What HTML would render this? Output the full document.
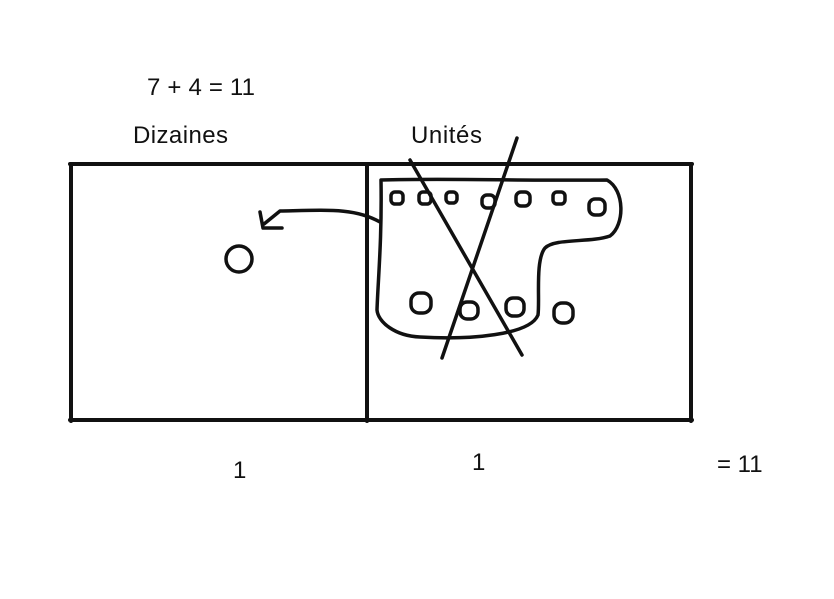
<!DOCTYPE html>
<html><head><style>body{margin:0;background:#fff}svg{display:block}</style></head>
<body>
<svg width="834" height="599" viewBox="0 0 834 599" xmlns="http://www.w3.org/2000/svg">
<rect width="834" height="599" fill="#fff"/>
<g font-family="Liberation Sans, sans-serif" font-size="24" fill="#111">
<text x="147" y="95" textLength="108">7 + 4 = 11</text>
<text x="133" y="143" textLength="95">Dizaines</text>
<text x="411" y="143" textLength="71">Unités</text>
<text x="233" y="478">1</text>
<text x="472" y="470">1</text>
<text x="717" y="472">= 11</text>
</g>
<g fill="none" stroke="#111" stroke-linecap="round" stroke-linejoin="round">
<path d="M70 164 H692 M71 164 V421 M367 164 V421 M691 164 V421 M70 420 H692" stroke-width="4"/>
<g stroke-width="3.5">
<path d="M381 180 C450 178 520 181 607 180 C625 190 625 225 610 236 C590 243 555 238 545 248 C535 260 540 300 538 315 C530 335 470 340 420 337 C395 336 378 322 377 310 C378 280 382 240 381 180 Z"/>
<path d="M380 222 C355 208 330 210 280 211 L264 224 M260 212 L263 228 L282 228"/>
<path d="M410 160 L522 355 M517 138 L442 358"/>
<circle cx="239" cy="259" r="13"/>
<rect x="391" y="192" width="12" height="12" rx="4"/>
<rect x="419" y="192" width="12" height="12" rx="4"/>
<rect x="446" y="192" width="11" height="11" rx="4"/>
<rect x="482" y="195" width="13" height="13" rx="5"/>
<rect x="516" y="192" width="14" height="14" rx="5"/>
<rect x="553" y="192" width="12" height="12" rx="4"/>
<rect x="589" y="199" width="16" height="16" rx="6"/>
<rect x="411" y="293" width="20" height="20" rx="8"/>
<rect x="460" y="302" width="18" height="17" rx="7"/>
<rect x="506" y="298" width="18" height="18" rx="7"/>
<rect x="554" y="303" width="19" height="20" rx="8"/>
</g>
</g>
</svg>
</body></html>
